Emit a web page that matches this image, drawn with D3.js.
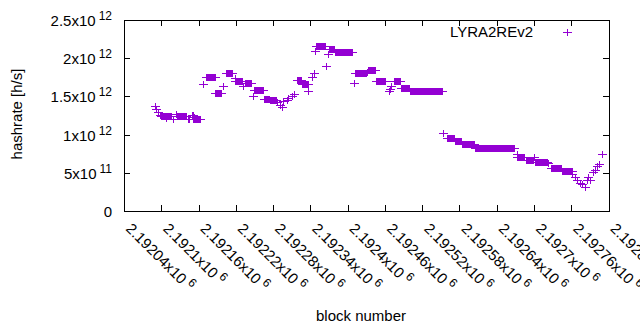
<!DOCTYPE html>
<html>
<head>
<meta charset="utf-8">
<script src="https://cdn.jsdelivr.net/npm/d3@7"></script>
<style>
  html, body { margin: 0; padding: 0; background: #fff; }
  svg { display: block; font-family: "Liberation Sans", Arial, sans-serif; }
</style>
</head>
<body>
<svg id="chart" width="640" height="330"></svg>
<script>
// ---- data: runs of constant hashrate (first block, last block, value) ----
const seriesName = "LYRA2REv2";
const blockStart = [2192090,2192091,2192094,2192098,2192099,2192107,2192106,2192119,2192123,2192125,
  2192143,2192149,2192152,2192151,2192162,
  2192167,2192172,2192186,2192199,2192204,2192218,2192219,2192232,2192235,2192248,
  2192249,2192265,2192275,2192286,2192291,2192294,2192296,2192302,2192304,2192310,
  2192314,2192318,2192326,2192337,2192342,2192346,2192348,2192349,2192365,2192369,
  2192370,2192380,2192411,2192412,2192432,2192433,2192445,2192466,2192468,2192470,
  2192474,2192486,2192500,2192554,2192560,2192573,2192584,2192605,2192672,2192673,
  2192687,2192700,2192702,2192723,2192727,2192745,2192762,2192766,2192770,2192774,
  2192777,2192782,2192785,2192787,2192790,2192795,2192798,2192802,2192805,2192809];
const blockEnd = [2192090,2192091,2192094,2192098,2192104,2192107,2192115,2192119,2192123,2192140,
  2192144,2192151,2192152,2192160,2192162,
  2192167,2192186,2192196,2192199,2192214,2192218,2192230,2192232,2192244,2192248,
  2192264,2192273,2192284,2192286,2192291,2192294,2192296,2192302,2192304,2192310,
  2192314,2192325,2192336,2192337,2192342,2192346,2192348,2192363,2192365,2192369,
  2192378,2192407,2192411,2192429,2192432,2192444,2192460,2192466,2192468,2192470,
  2192484,2192499,2192552,2192554,2192571,2192582,2192603,2192668,2192672,2192684,
  2192698,2192700,2192721,2192723,2192743,2192761,2192762,2192766,2192770,2192774,
  2192777,2192782,2192785,2192787,2192790,2192795,2192798,2192802,2192805,2192809];
const hashrate = [1.38e12,1.33e12,1.29e12,1.26e12,1.24e12,1.22e12,1.24e12,1.21e12,1.27e12,1.24e12,
  1.21e12,1.26e12,1.23e12,1.20e12,1.20e12,
  1.66e12,1.75e12,1.54e12,1.63e12,1.80e12,1.74e12,1.705e12,1.64e12,1.67e12,1.51e12,
  1.58e12,1.47e12,1.45e12,1.43e12,1.39e12,1.365e12,1.44e12,1.45e12,1.475e12,1.505e12,
  1.53e12,1.71e12,1.66e12,1.575e12,1.755e12,1.81e12,2.10e12,2.165e12,1.90e12,2.055e12,
  2.115e12,2.077e12,1.67e12,1.81e12,1.82e12,1.845e12,1.70e12,1.57e12,1.60e12,1.63e12,
  1.70e12,1.606e12,1.567e12,1.017e12,0.95e12,0.912e12,0.873e12,0.829e12,0.742e12,0.71e12,
  0.664e12,0.71e12,0.645e12,0.624e12,0.559e12,0.52e12,0.49e12,0.44e12,0.41e12,0.37e12,
  0.35e12,0.32e12,0.41e12,0.45e12,0.41e12,0.51e12,0.54e12,0.59e12,0.62e12,0.745e12];

// ---- ticks ----
const xTickValues = [2192040,2192100,2192160,2192220,2192280,2192340,2192400,2192460,2192520,2192580,2192640,2192700,2192760,2192820];
const xTickMantissa = ["2.19204x10","2.1921x10","2.19216x10","2.19222x10","2.19228x10","2.19234x10","2.1924x10","2.19246x10","2.19252x10","2.19258x10","2.19264x10","2.1927x10","2.19276x10","2.19282x10"];
const xTickExp = ["6","6","6","6","6","6","6","6","6","6","6","6","6","6"];
const yTickValues = [0, 5e11, 1e12, 1.5e12, 2e12, 2.5e12];
const yTickMantissa = ["0","5x10","1x10","1.5x10","2x10","2.5x10"];
const yTickExp = ["","11","12","12","12","12"];
const xLabel = "block number";
const yLabel = "hashrate [h/s]";

// ---- expand runs into points (one per block) ----
const points = [];
blockStart.forEach((s, i) => {
  for (let b = s; b <= blockEnd[i]; b++) points.push({ b, v: hashrate[i] });
});

const svg = d3.select("#chart");
const L = 124, R = 608.5, T = 20, B = 211;
const x = d3.scaleLinear().domain([2192040, 2192820]).range([L, R]);
const y = d3.scaleLinear().domain([0, 2.5e12]).range([B, T]);
const color = "#9400d3";
const fs = 15;
const tick = 6;

// axes with inward ticks (mirrored)
const gx = svg.append("g").attr("transform", `translate(0,${B})`)
  .call(d3.axisBottom(x).tickValues(xTickValues).tickFormat("").tickSizeInner(-tick).tickSizeOuter(0));
svg.append("g").attr("transform", `translate(0,${T})`)
  .call(d3.axisTop(x).tickValues(xTickValues).tickFormat("").tickSizeInner(-tick).tickSizeOuter(0));
const gy = svg.append("g").attr("transform", `translate(${L},0)`)
  .call(d3.axisLeft(y).tickValues(yTickValues).tickFormat("").tickSizeInner(-tick).tickSizeOuter(0));
svg.append("g").attr("transform", `translate(${R},0)`)
  .call(d3.axisRight(y).tickValues(yTickValues).tickFormat("").tickSizeInner(-tick).tickSizeOuter(0));
svg.selectAll(".domain").remove();
svg.selectAll(".tick line").attr("stroke", "#000").attr("shape-rendering", "crispEdges");

// frame
svg.append("rect").attr("x", Math.round(L) + 0.5).attr("y", T + 0.5)
  .attr("width", Math.round(R) - Math.round(L)).attr("height", B - T)
  .attr("fill", "none").attr("stroke", "#000").attr("stroke-width", 1)
  .attr("shape-rendering", "crispEdges");

// y tick labels
gy.selectAll(".tick").each(function (d, i) {
  const t = d3.select(this).append("text")
    .attr("x", 112 - L).attr("dy", "0.36em")
    .attr("text-anchor", "end").attr("fill", "#000")
    .style("font-size", fs + "px");
  t.append("tspan").text(yTickMantissa[i]);
  if (yTickExp[i]) {
    t.append("tspan").attr("dx", 3).attr("dy", -6).style("font-size", "12px").text(yTickExp[i]);
  }
});

// x tick labels (rotated 45 degrees, starting just below each tick)
gx.selectAll(".tick").each(function (d, i) {
  const t = d3.select(this).append("text")
    .attr("transform", "translate(0.5,18.5) rotate(45)")
    .attr("text-anchor", "start").attr("fill", "#000")
    .style("font-size", fs + "px");
  t.append("tspan").text(xTickMantissa[i]);
  t.append("tspan").attr("dx", 3.5).attr("dy", -6).style("font-size", "12px").text(xTickExp[i]);
});

// axis titles
svg.append("text").attr("x", 361).attr("y", 321).attr("text-anchor", "middle")
  .style("font-size", fs + "px").attr("fill", "#000").text(xLabel);
svg.append("text").attr("transform", "translate(22,114) rotate(-90)").attr("text-anchor", "middle")
  .style("font-size", fs + "px").attr("fill", "#000").text(yLabel);

// points "+"
const plus = (cx, cy) => {
  const rx = Math.round(cx), ry = Math.round(cy);
  return `M${rx - 4},${ry + 0.5}H${rx + 5}M${rx + 0.5},${ry - 3}V${ry + 4}`;
};
svg.append("g").selectAll("path").data(points).join("path")
  .attr("d", p => plus(x(p.b), y(p.v)))
  .attr("stroke", color).attr("stroke-width", 1).attr("fill", "none")
  .attr("shape-rendering", "crispEdges");

// legend
svg.append("text").attr("x", 533).attr("y", 37).attr("text-anchor", "end")
  .style("font-size", fs + "px").attr("fill", "#000").text(seriesName);
svg.append("path").attr("d", plus(567, 32)).attr("stroke", color).attr("fill", "none")
  .attr("shape-rendering", "crispEdges");
</script>
</body>
</html>
